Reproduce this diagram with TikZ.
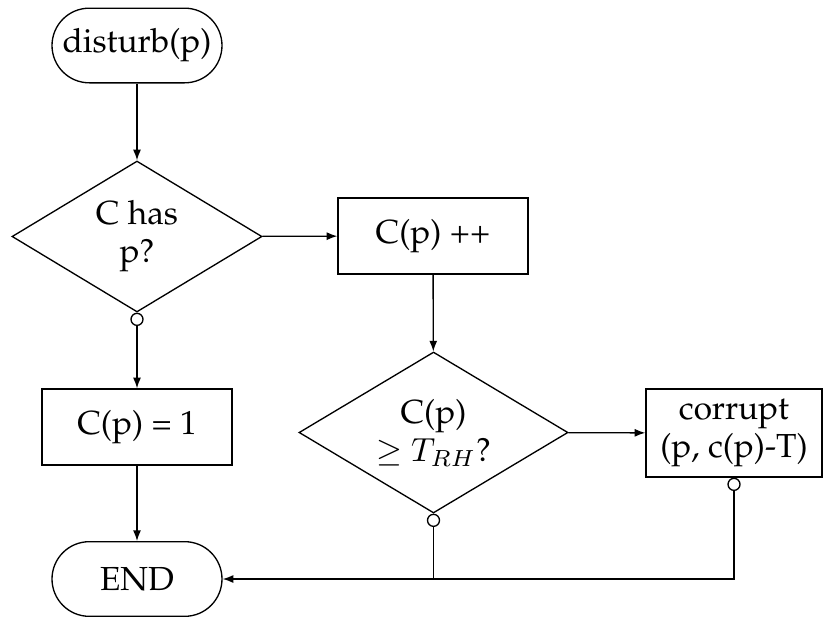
\documentclass[tikz,border=0pt]{standalone}
\usepackage[T1]{fontenc}
\usepackage{palatino}
\usetikzlibrary{arrows.meta,shapes.geometric}

\begin{document}
\begin{tikzpicture}[x=0.3pt,y=-0.3pt,
  font=\fontsize{10}{11.4}\selectfont,
  every path/.style={line width=0.4pt},
  terminal/.style={draw,rectangle,rounded corners=11.2pt,align=center,
    minimum width=51pt,minimum height=22.4pt,inner sep=1pt},
  decision/.style={draw,diamond,aspect=1.67,align=center,inner sep=0pt},
  process/.style={draw,rectangle,align=center,
    minimum width=57pt,minimum height=22.8pt,inner sep=1pt},
  flow/.style={-{Latex[length=3.2pt,width=2.4pt]}},
  branch/.style={{Circle[open,length=4pt,width=4pt]}-{Latex[length=3.2pt,width=2.4pt]}},
  branchonly/.style={{Circle[open,length=4pt,width=4pt]}-}]

  \useasboundingbox (0,0) rectangle (823,617);

  % left column
  \node[terminal] (start) at (137,45.5) {disturb(p)};
  \node[decision,minimum width=75pt,minimum height=45.3pt] (has) at (137,236.5) {C has\\p?};
  \node[process] (init) at (137,427) {C(p) = 1};
  \node[terminal] (stop) at (137,579) {END};

  % middle column
  \node[process] (inc) at (433,236) {C(p) ++};
  \node[decision,minimum width=80.7pt,minimum height=48.3pt] (thr) at (433.5,432.5) {C(p)\\$\geq T_{RH}$?};

  % right column
  \node[process,minimum width=52.8pt,minimum height=26.4pt] (corr) at (734,433) {corrupt\\(p, c(p)-T)};

  \coordinate (join) at (thr.south |- stop.east);

  % connectors
  \draw[flow] (start) -- (has);
  \draw[branch] (has) -- (init);
  \draw[flow] (init) -- (stop);
  \draw[flow] (has) -- (inc);
  \draw[flow] (inc) -- (thr);
  \draw[flow] (thr) -- (corr);
  \draw[branch] (thr.south) -- (join) -- (stop.east);
  \draw[branchonly] (corr.south) |- (join);
\end{tikzpicture}
\end{document}
